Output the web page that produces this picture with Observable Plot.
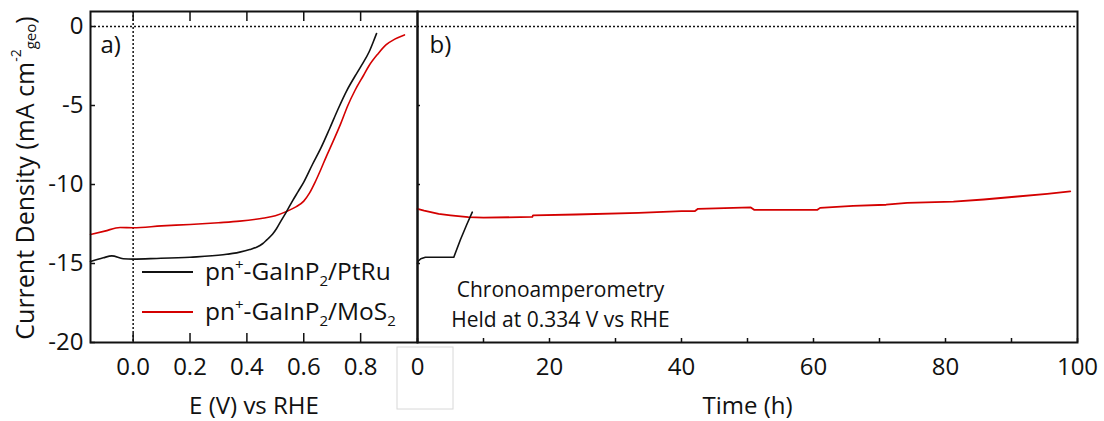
<!DOCTYPE html>
<html><head><meta charset="utf-8">
<script src="https://cdn.jsdelivr.net/npm/d3@7"></script>
<script src="https://cdn.jsdelivr.net/npm/@observablehq/plot@0.6"></script>
<style>
body{margin:0;background:#fff;}
#wrap{position:relative;width:1104px;height:421px;font-family:"Open Sans",sans-serif;}
#wrap svg{position:absolute;left:0;top:0;}
</style></head><body><div id="wrap"></div>
<script>
// ---- Panel a: linear sweep voltammetry ----
const ePtRu = [-0.15,-0.105,-0.075,-0.035,0.0,0.083,0.2,0.316,0.375,0.41,0.434,0.455,0.47,0.49,0.504,0.52,0.54,0.56,0.58,0.6,0.63,0.66,0.69,0.72,0.75,0.78,0.8,0.83,0.845,0.856];
const jPtRu = [-14.88,-14.64,-14.52,-14.7,-14.72,-14.68,-14.6,-14.45,-14.28,-14.12,-13.97,-13.75,-13.5,-13.15,-12.8,-12.3,-11.7,-11.05,-10.45,-9.85,-8.75,-7.7,-6.5,-5.25,-4.1,-3.15,-2.55,-1.6,-0.95,-0.44];
const eMoS2 = [-0.15,-0.1,-0.046,0,0.1,0.2,0.3,0.375,0.45,0.5,0.54,0.574,0.6,0.62,0.64,0.66,0.68,0.7,0.73,0.755,0.78,0.81,0.83,0.86,0.89,0.92,0.954];
const jMoS2 = [-13.16,-12.95,-12.72,-12.74,-12.62,-12.53,-12.42,-12.32,-12.15,-11.98,-11.7,-11.4,-11.05,-10.55,-9.85,-9.05,-8.2,-7.4,-6.15,-5.0,-4.05,-3.1,-2.47,-1.75,-1.15,-0.8,-0.53];
// ---- Panel b: chronoamperometry ----
const tPtRu = [0,0.1,0.5,1.2,3,5.5,6.5,7.5,8.3];
const caPtRu = [-15.0,-14.85,-14.7,-14.6,-14.6,-14.6,-13.5,-12.5,-11.75];
const tMoS2 = [0,1,3.2,5,7.7,10,17.4,17.5,24,33.5,40,42,42.5,50.5,51,60.6,61,66,71,74.2,81.2,85.8,90.9,95.4,98.9];
const caMoS2 = [-11.54,-11.65,-11.86,-11.95,-12.07,-12.1,-12.05,-11.96,-11.9,-11.8,-11.69,-11.69,-11.54,-11.45,-11.6,-11.6,-11.48,-11.35,-11.28,-11.16,-11.08,-10.95,-10.76,-10.59,-10.44];
// ---- ticks & labels ----
const xTicksA = [0,0.2,0.4,0.6,0.8];
const yTicks = [-20,-15,-10,-5,0];
const xTicksB = [0,20,40,60,80,100];
const xMinorB = [0,10,20,30,40,50,60,70,80,90,100];
const xLabelA = "E (V) vs RHE";
const xLabelB = "Time (h)";
const noteLines = ["Chronoamperometry","Held at 0.334 V vs RHE"];
const legendParts = [["pn","+","-GaInP","2","/PtRu"],["pn","+","-GaInP","2","/MoS","2"]];

const FONT = "Open Sans";
const RED = "#d40000";
const INK = "#111";
const zip = (xs, ys) => xs.map((x, i) => ({x, y: ys[i]}));

const lsvPt = zip(ePtRu, jPtRu), lsvMo = zip(eMoS2, jMoS2);
const caPt = zip(tPtRu, caPtRu), caMo = zip(tMoS2, caMoS2);

const baseStyle = {fontFamily: FONT, fontSize: "24px", color: INK, background: "transparent", overflow: "visible"};

const pa = Plot.plot({
  width: 420, height: 421,
  marginLeft: 90, marginRight: 3, marginTop: 11, marginBottom: 79,
  style: baseStyle,
  x: {domain: [-0.15, 1.0]},
  y: {domain: [-20, 0.95]},
  marks: [
    Plot.ruleY([0], {stroke: INK, strokeWidth: 1.5, strokeDasharray: "2,2"}),
    Plot.ruleX([0], {stroke: INK, strokeWidth: 1.5, strokeDasharray: "2,2"}),
    Plot.line(lsvMo, {x: "x", y: "y", stroke: RED, strokeWidth: 1.6, curve: "monotone-x"}),
    Plot.line(lsvPt, {x: "x", y: "y", stroke: INK, strokeWidth: 1.6, curve: "monotone-x"}),
    Plot.axisX({ticks: xTicksA, tickSize: -9, tickPadding: 24, tickFormat: d => d.toFixed(1), label: null, fontSize: 24, strokeWidth: 1.5}),
    Plot.axisX({anchor: "top", ticks: xTicksA, tickSize: -9, tickFormat: () => "", label: null, strokeWidth: 1.5}),
    Plot.axisY({ticks: yTicks, tickSize: -5, tickPadding: 12, tickFormat: d => String(d), label: null, fontSize: 24, strokeWidth: 1.5}),
    Plot.text([xLabelA], {frameAnchor: "bottom", dy: 64, lineAnchor: "middle", fontSize: 24, text: d => d}),
    Plot.text(["a)"], {frameAnchor: "top-left", dx: 10, dy: 34, textAnchor: "start", lineAnchor: "middle", fontSize: 24, text: d => d}),
    Plot.frame({stroke: INK, strokeWidth: 2})
  ]
});

const pb = Plot.plot({
  width: 1104, height: 421,
  marginLeft: 417, marginRight: 27, marginTop: 11, marginBottom: 79,
  style: baseStyle,
  x: {domain: [0, 100]},
  y: {domain: [-20, 0.95]},
  marks: [
    Plot.ruleY([0], {stroke: INK, strokeWidth: 1.5, strokeDasharray: "2,2"}),
    Plot.line(caMo, {x: "x", y: "y", stroke: RED, strokeWidth: 1.8}),
    Plot.line(caPt, {x: "x", y: "y", stroke: INK, strokeWidth: 1.6}),
    Plot.axisX({ticks: xMinorB, tickSize: -4, tickFormat: () => "", label: null, strokeWidth: 1.5}),
    Plot.axisX({ticks: xTicksB, tickSize: 0, tickPadding: 15, label: null, fontSize: 24}),
    Plot.axisY({ticks: [-15,-10,-5], tickSize: -3, tickFormat: () => "", label: null, strokeWidth: 1.5}),
    Plot.text([xLabelB], {frameAnchor: "bottom", dy: 64, lineAnchor: "middle", fontSize: 24, text: d => d}),
    Plot.text(["b)"], {frameAnchor: "top-left", dx: 12, dy: 34, textAnchor: "start", lineAnchor: "middle", fontSize: 24, text: d => d}),
    Plot.text(noteLines, {frameAnchor: "top-left", dx: 143, dy: 279, textAnchor: "middle", lineAnchor: "middle", fontSize: 21, text: d => d,
      filter: (d, i) => i === 0}),
    Plot.text(noteLines, {frameAnchor: "top-left", dx: 143, dy: 309, textAnchor: "middle", lineAnchor: "middle", fontSize: 21, text: d => d,
      filter: (d, i) => i === 1}),
    Plot.frame({stroke: INK, strokeWidth: 2})
  ]
});

const wrap = document.getElementById("wrap");
wrap.appendChild(pa);
wrap.appendChild(pb);

const sb = d3.select(pb);
// faint box around the "0" label (as in the original figure)
sb.append("rect").attr("x", 397).attr("y", 347).attr("width", 56).attr("height", 62)
  .attr("fill", "none").attr("stroke", "#d8d8d8").attr("stroke-width", 1);

// y-axis label with super/subscript
const sa = d3.select(pa);
const yl = sa.append("text").attr("transform", "translate(24,178) rotate(-90)")
  .attr("text-anchor", "middle").attr("dominant-baseline", "central")
  .attr("font-family", FONT).attr("font-size", 25).attr("fill", INK);
yl.append("tspan").text("Current Density (mA cm");
yl.append("tspan").attr("dy", -9).attr("font-size", 14).text("-2");
yl.append("tspan").attr("dy", 15).attr("font-size", 15).text("geo");
yl.append("tspan").attr("dy", -6).text(")");

// legend
const legendColors = [INK, RED];
legendColors.forEach((c, i) => {
  const y = 272 + i * 40;
  sa.append("line").attr("x1", 142).attr("x2", 193).attr("y1", y).attr("y2", y)
    .attr("stroke", c).attr("stroke-width", 1.8);
  const t = sa.append("text").attr("x", 205).attr("y", y + 8).attr("text-anchor", "start")
    .attr("font-family", FONT).attr("font-size", 24.5).attr("fill", INK);
  const parts = legendParts[i];
  t.append("tspan").text(parts[0]);
  t.append("tspan").attr("dy", -10).attr("font-size", 15).text(parts[1]);
  t.append("tspan").attr("dy", 10).text(parts[2]);
  t.append("tspan").attr("dy", 6).attr("font-size", 15).text(parts[3]);
  t.append("tspan").attr("dy", -6).text(parts[4]);
  if (parts[5]) t.append("tspan").attr("dy", 6).attr("font-size", 15).text(parts[5]);
});
</script></body></html>
